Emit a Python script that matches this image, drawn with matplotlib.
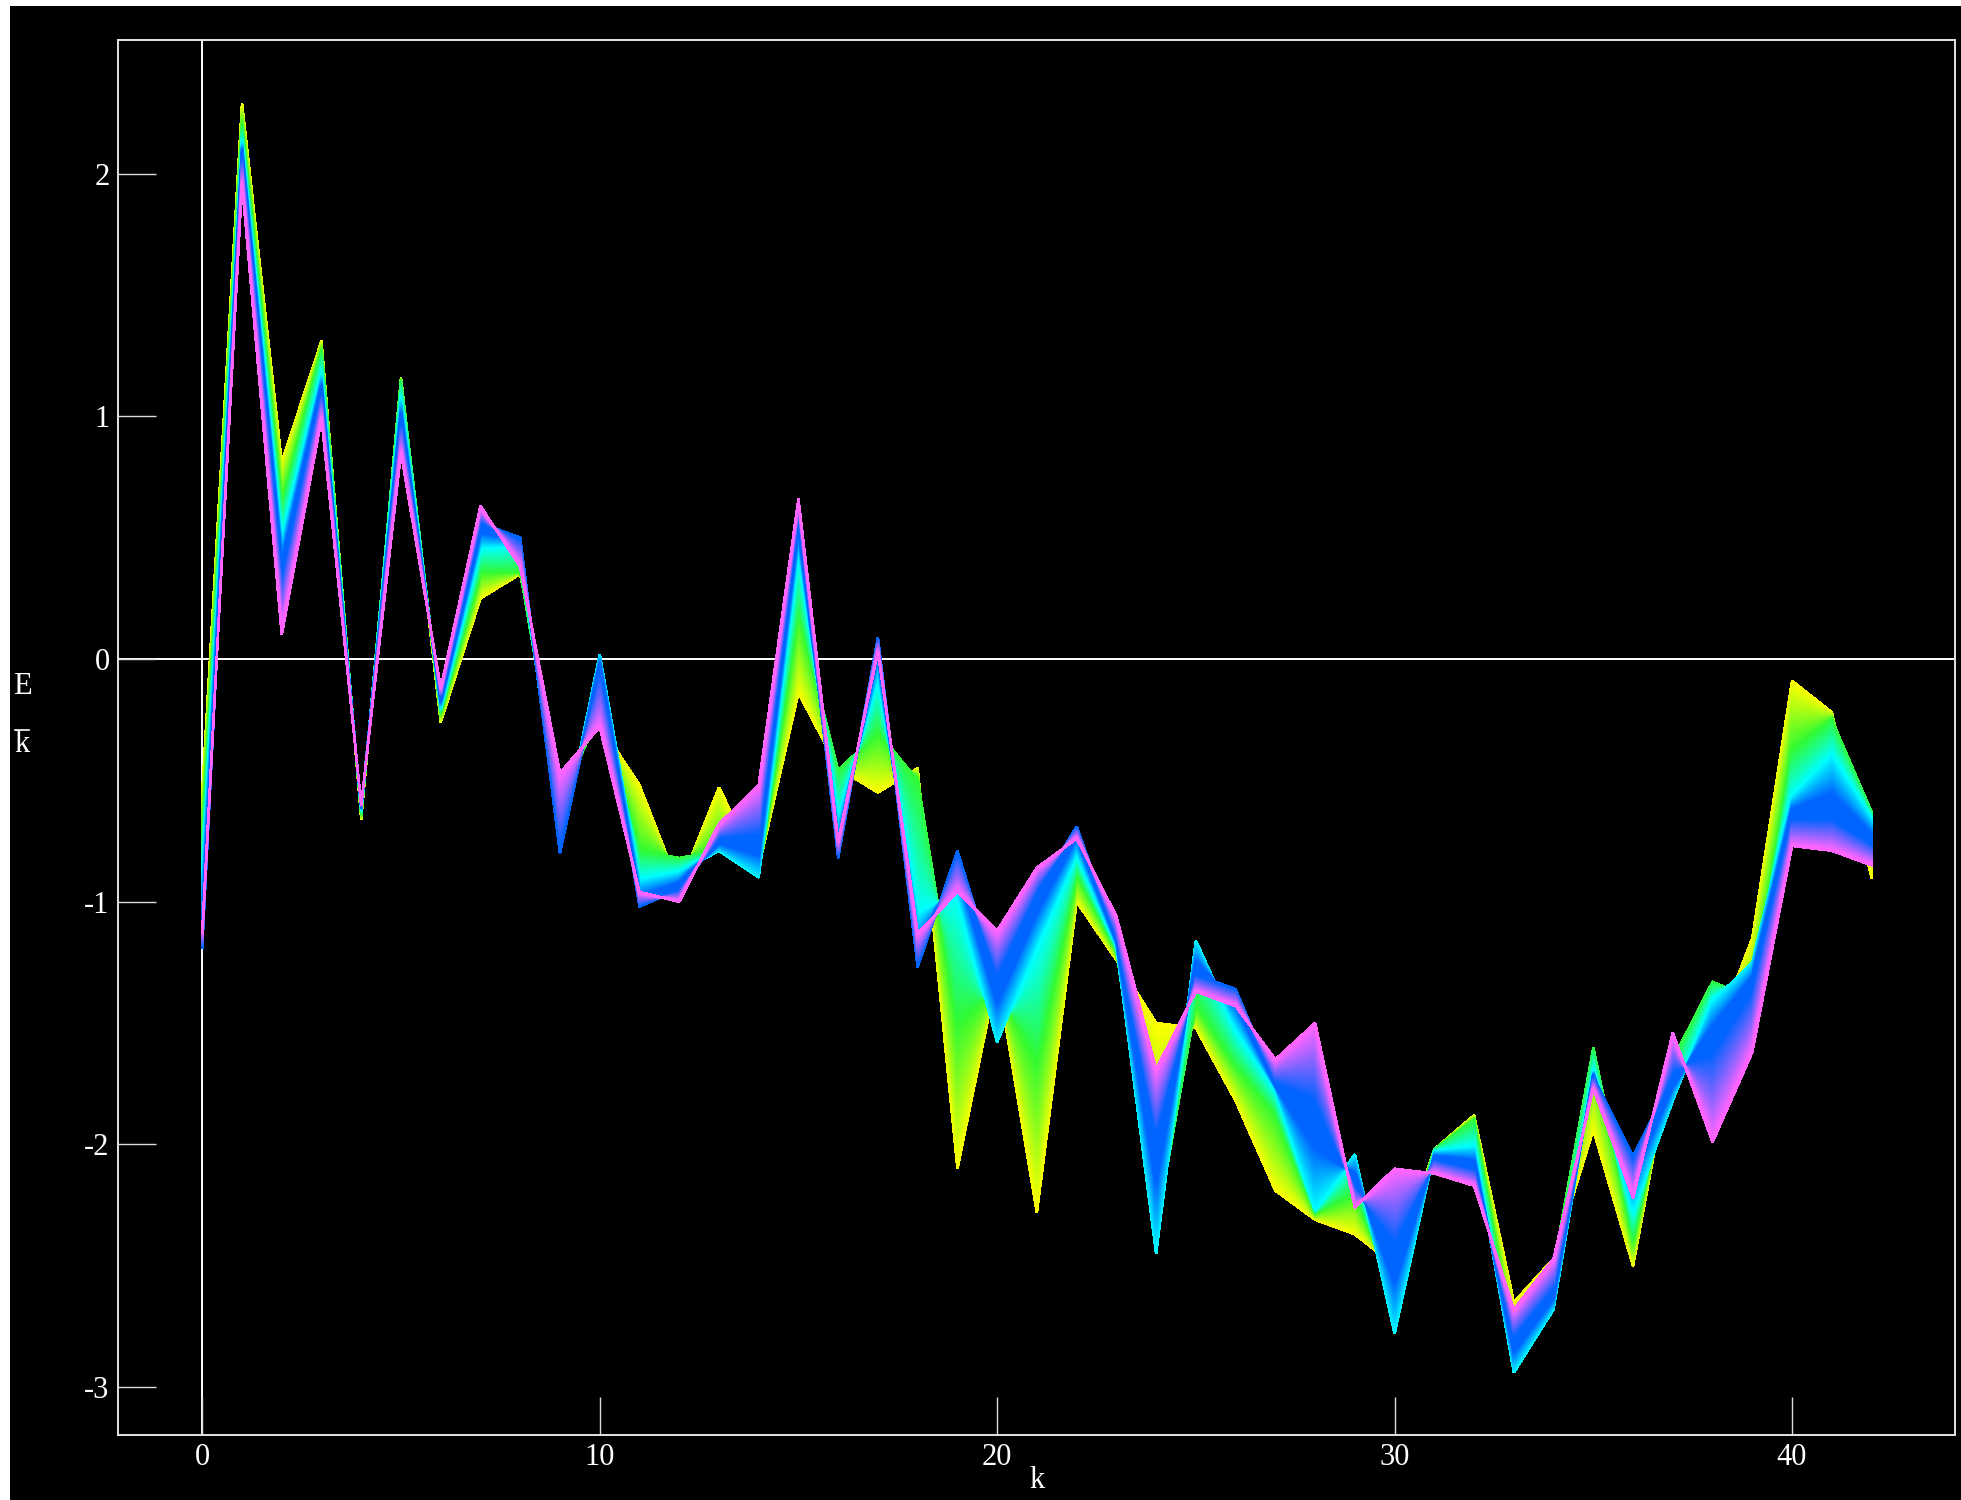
import numpy as np
import matplotlib
matplotlib.use("Agg")
import matplotlib.pyplot as plt
from matplotlib.lines import Line2D
from matplotlib.patches import Rectangle

plt.rcParams["font.family"] = ["Liberation Serif", "DejaVu Serif"]
plt.rcParams["axes.unicode_minus"] = False

k = list(range(43))

# five curves of the family
yellow = [-0.55, 2.29, 0.81, 1.31, -0.66, 1.16, -0.26, 0.25, 0.35, -0.50, -0.27,
          -0.52, -0.94, -0.53, -0.86, -0.14, -0.45, -0.55, -0.45, -2.10, -1.30,
          -2.28, -1.00, -1.24, -1.50, -1.52, -1.82, -2.19, -2.31, -2.37, -2.50,
          -2.02, -1.88, -2.65, -2.47, -1.94, -2.50, -1.62, -1.58, -1.15, -0.09,
          -0.22, -0.90]
green = [-0.75, 2.20, 0.63, 1.27, -0.64, 1.15, -0.22, 0.36, 0.36, -0.60, -0.22,
         -0.79, -0.82, -0.79, -0.89, 0.20, -0.46, -0.30, -0.50, -1.50, -1.35,
         -1.65, -0.88, -1.20, -2.35, -1.42, -1.67, -1.87, -2.28, -2.20, -2.60,
         -2.02, -1.90, -2.85, -2.50, -1.60, -2.39, -1.65, -1.33, -1.40, -0.38,
         -0.25, -0.63]
cyan = [-0.90, 2.13, 0.49, 1.17, -0.62, 1.07, -0.20, 0.46, 0.47, -0.78, 0.02,
        -0.91, -0.88, -0.79, -0.90, 0.45, -0.67, -0.07, -1.05, -0.97, -1.58,
        -1.18, -0.80, -1.18, -2.45, -1.16, -1.52, -1.77, -2.27, -2.04, -2.78,
        -2.03, -2.01, -2.94, -2.68, -1.70, -2.27, -1.82, -1.41, -1.25, -0.57,
        -0.40, -0.66]
blue = [-1.19, 2.08, 0.34, 1.10, -0.61, 0.98, -0.16, 0.56, 0.50, -0.80, -0.04,
        -1.02, -0.95, -0.74, -0.75, 0.60, -0.82, 0.09, -1.27, -0.79, -1.32,
        -0.96, -0.69, -1.15, -1.98, -1.30, -1.36, -1.75, -1.86, -2.17, -2.44,
        -2.06, -2.10, -2.80, -2.60, -1.72, -2.05, -1.72, -1.58, -1.35, -0.65,
        -0.65, -0.76]
magenta = [-1.12, 1.96, 0.10, 0.99, -0.60, 0.85, -0.12, 0.63, 0.38, -0.47, -0.28,
           -0.96, -1.00, -0.68, -0.52, 0.66, -0.75, 0.03, -1.13, -0.96, -1.12,
           -0.86, -0.74, -1.06, -1.69, -1.37, -1.43, -1.65, -1.50, -2.26, -2.10,
           -2.12, -2.17, -2.68, -2.47, -1.77, -2.22, -1.54, -1.99, -1.62, -0.77,
           -0.79, -0.85]

x_ticks = [0, 10, 20, 30, 40]
y_ticks = [-3, -2, -1, 0, 1, 2]
x_tick_labels = ["0", "10", "20", "30", "40"]
y_tick_labels = ["-3", "-2", "-1", "0", "1", "2"]


def shade(t):
    stops = [0, 0.25, 0.5, 0.66, 0.78, 1]
    r = np.interp(t, stops, [255, 50, 0, 0, 0, 255])
    g = np.interp(t, stops, [255, 250, 255, 100, 100, 100])
    b = np.interp(t, stops, [0, 50, 255, 255, 255, 255])
    return (r / 255, g / 255, b / 255)


fig = plt.figure(figsize=(19.61, 15), dpi=100, facecolor="white")
fig.add_artist(Rectangle((10 / 1961, 0), 1951 / 1961, 1494 / 1500, transform=fig.transFigure,
                         facecolor="black", edgecolor="none", zorder=-1))
ax = fig.add_axes([118 / 1961, 65 / 1500, 1837 / 1961, 1395 / 1500], facecolor="black")

ax.axhline(0, color="white", lw=1.4, zorder=1)
ax.axvline(0, color="white", lw=1.4, zorder=1)

# the family runs from yellow to magenta, so shade between the read curves
curves = np.array([yellow, green, cyan, blue, magenta])
for t in np.linspace(0, 1, 340):
    pos = t * 4
    i = min(int(pos), 3)
    line = curves[i] + (curves[i + 1] - curves[i]) * (pos - i)
    ax.plot(k, line, color=shade(t), lw=1.2, zorder=2, antialiased=False, solid_joinstyle="miter")

ax.set_xlim(-2.12, 44.1)
ax.set_ylim(-3.197, 2.55)
ax.set_xticks(x_ticks)
ax.set_xticklabels(x_tick_labels)
ax.set_yticks(y_ticks)
ax.set_yticklabels(y_tick_labels)
ax.tick_params(direction="in", length=27.5, width=1, color="#dddddd", labelcolor="white",
               labelsize=22, pad=6)
ax.tick_params(axis="x", pad=6)
for spine in ax.spines.values():
    spine.set_color("#e4e4e4")
    spine.set_linewidth(1.4)
    spine.set_zorder(3)

fig.text(1037 / 1961, 1 - 1481 / 1500, "k", color="white", fontsize=22, ha="center", va="center")
fig.text(22 / 1961, 1 - 686 / 1500, "E", color="white", fontsize=22, ha="center", va="center")
fig.text(22 / 1961, 1 - 744 / 1500, "k", color="white", fontsize=22, ha="center", va="center")
fig.add_artist(Line2D([15 / 1961, 29 / 1961], [1 - 730 / 1500, 1 - 730 / 1500],
                      color="white", lw=1.2, transform=fig.transFigure))

fig.savefig("out.png", dpi=100, facecolor="white")
